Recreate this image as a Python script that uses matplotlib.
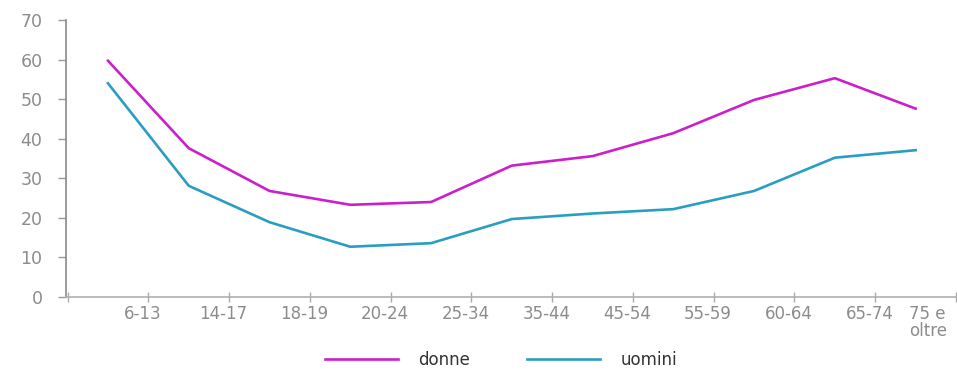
import matplotlib
matplotlib.use("Agg")
import matplotlib.pyplot as plt
import numpy as np

# Age groups and rates by sex
categories = ["6-13", "14-17", "18-19", "20-24", "25-34", "35-44",
              "45-54", "55-59", "60-64", "65-74", "75 e\noltre"]
donne = [59.7, 37.6, 26.8, 23.3, 24.0, 33.2, 35.6, 41.4, 49.8, 55.3, 47.6]
uomini = [54.0, 28.1, 18.9, 12.7, 13.6, 19.7, 21.1, 22.2, 26.8, 35.2, 37.1]
y_ticks = [0, 10, 20, 30, 40, 50, 60, 70]

MAGENTA = "#CC1FCC"
TEAL = "#2A9EC2"
GRAY = "#8C8C8C"

plt.rcParams["font.family"] = ["DejaVu Sans"]

fig = plt.figure(figsize=(9.57, 3.71), dpi=100)
ax = fig.add_axes([66 / 957, 1 - 297 / 371, (956 - 66) / 957, (297 - 20) / 371])

x = np.arange(len(categories))
ax.plot(x, donne, color=MAGENTA, lw=1.9, label="donne")
ax.plot(x, uomini, color=TEAL, lw=1.9, label="uomini")

ax.set_xlim(-0.52, len(categories) - 0.5)
ax.set_ylim(0, 70)

# tick marks sit on the category boundaries; labels sit on those marks,
# the last one pulled inward so it stays on the canvas
bounds = np.arange(len(categories) + 1) - 0.5
label_pos = bounds[1:] - 0.07
label_pos[-1] = len(categories) - 0.85
ax.set_xticks(bounds, minor=True)
ax.set_xticks(label_pos)
ax.set_xticklabels(categories, color=GRAY, fontsize=12, linespacing=0.9)
ax.tick_params(axis="x", which="major", length=0, pad=6)
ax.tick_params(axis="x", which="minor", length=7, width=1, color="#AAAAAA",
               direction="inout")

ax.set_yticks(y_ticks)
ax.set_yticklabels([str(v) for v in y_ticks], color=GRAY, fontsize=12.5)
ax.tick_params(axis="y", length=6, width=1, color="#9A9A9A", pad=11)

for s in ("top", "right"):
    ax.spines[s].set_visible(False)
ax.spines["left"].set_color("#8A8A8A")
ax.spines["bottom"].set_color("#B0B0B0")
ax.spines["left"].set_linewidth(1.2)
ax.spines["bottom"].set_linewidth(1.2)

fig.legend(loc="center", bbox_to_anchor=(501 / 957, 0.03), ncol=2,
           frameon=False, fontsize=12, handlelength=4.4, handletextpad=1.2,
           columnspacing=3.4, labelcolor="#333333", borderpad=0.2)

fig.savefig("out.png", dpi=100)
